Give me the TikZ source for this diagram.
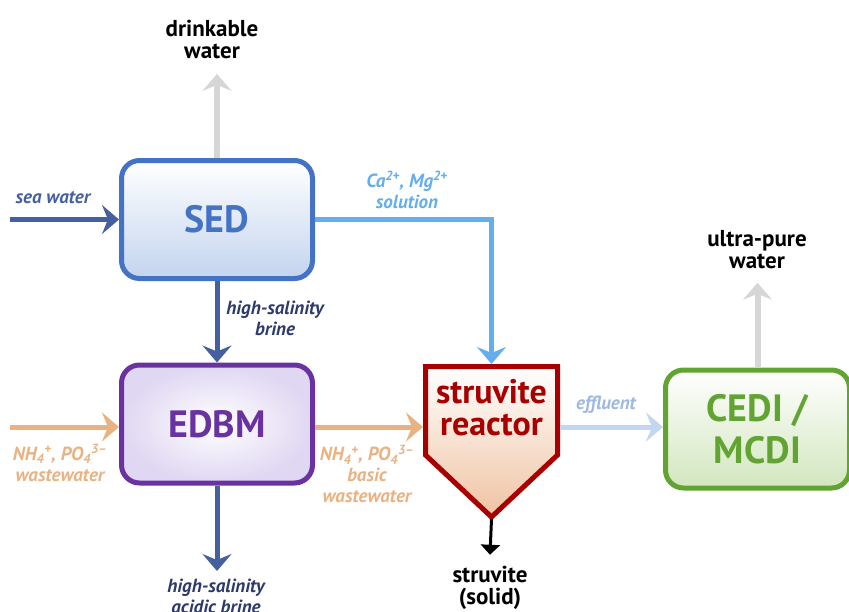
\documentclass[tikz,border=0pt]{standalone}
\usepackage{fontspec}
\setmainfont{PT Sans}
\usetikzlibrary{positioning, calc, arrows.meta, backgrounds}

\definecolor{sedline}{HTML}{4472C4}
\definecolor{sedfill}{HTML}{C3D4EE}
\definecolor{brineblue}{HTML}{46609F}
\definecolor{navytext}{HTML}{2E3A6B}
\definecolor{ionblue}{HTML}{64AEEE}
\definecolor{peach}{HTML}{E9B282}
\definecolor{edbmline}{HTML}{6A32A0}
\definecolor{edbmfill}{HTML}{E0D7F2}
\definecolor{reactred}{HTML}{A80000}
\definecolor{reactfill}{HTML}{EFC3A2}
\definecolor{cediline}{HTML}{62A432}
\definecolor{cedifill}{HTML}{D2E6BE}
\definecolor{effblue}{HTML}{C3D6F0}
\definecolor{efftext}{HTML}{9DB9E2}
\definecolor{outgray}{HTML}{D6D6D6}

\begin{document}
\begin{tikzpicture}[
    x=1pt, y=-1pt,
    unit/.style={draw, line width=5pt, rounded corners=18pt,
                 minimum width=191pt, minimum height=118pt,
                 align=center, font=\fontsize{38}{42}\selectfont\bfseries},
    flow/.style={line width=5pt,
                 -{Stealth[length=17pt, width=29pt, inset=6pt]}},
    outflow/.style={flow, line width=6pt, outgray},
    lbl/.style={align=center, font=\fontsize{19}{21}\selectfont\bfseries\itshape},
    prod/.style={align=center, font=\fontsize{23}{22}\selectfont\bfseries},
]
\useasboundingbox (0,0) rectangle (849,611);

% --- Nodes ---
\node[unit, sedline, text=sedline, top color=white, bottom color=sedfill]
    (sed) at (217, 219.5) {SED};
\node[unit, edbmline, text=edbmline, inner color=white, outer color=edbmfill]
    (edbm) at (217, 424) {EDBM};
\node[unit, cediline, text=cediline, top color=white, bottom color=cedifill,
      minimum width=184pt] (cedi) at (757.5, 429) {CEDI /\\MCDI};
\node[outer sep=0pt, minimum width=132pt, minimum height=88.5pt,
      align=center, text=reactred, font=\fontsize{34}{32}\selectfont\bfseries,
      text depth=6pt]
    (reactor) at (491.5, 410.75) {struvite\\reactor};

% reactor body (drawn from the node's corners)
\begin{pgfonlayer}{background}
\path[draw=reactred, line width=5pt, line join=miter,
      top color=white, bottom color=reactfill]
    (reactor.north west) -- (reactor.north east) -- (reactor.south east)
    -- ($(reactor.south)+(0,62)$) -- (reactor.south west) -- cycle;
\end{pgfonlayer}

% --- Labels ---
\node[prod] (drink) at (212, 39) {drinkable\\water};
\node[prod] (upw) at (757, 250) {ultra-pure\\water};
\node[prod] (solid) at (490, 588) {struvite\\(solid)};
\node[lbl, text=brineblue] (sealbl) at (53, 198) {sea water};
\node[lbl, text=ionblue] (ionlbl) at (407, 190)
    {Ca\textsuperscript{2+}, Mg\textsuperscript{2+}\\solution};
\node[lbl, text=navytext] (brinelbl) at (275, 318) {high-salinity\\brine};
\node[lbl, text=peach] (wwlbl) at (60, 463)
    {NH\textsubscript{4}\textsuperscript{+}, PO\textsubscript{4}\textsuperscript{3--}\\wastewater};
\node[lbl, text=peach] (basiclbl) at (367, 474)
    {NH\textsubscript{4}\textsuperscript{+}, PO\textsubscript{4}\textsuperscript{3--}\\basic\\wastewater};
\node[lbl, text=navytext] (acidlbl) at (216, 596) {high-salinity\\acidic brine};
\node[lbl, text=efftext] (efflbl) at (606, 405) {effluent};

% --- Free ends ---
\coordinate (seain) at (10, 219.5);
\coordinate (wwin) at (10, 427);
\coordinate (acidend) at (217, 571);

% --- Arrows ---
\draw[flow, brineblue] (seain) -- (sed.west);
\draw[outflow] (sed.north) -- ([yshift=-12pt]sed.north |- drink.south);
\draw[flow, ionblue] (sed.east) -| ([yshift=2.5pt]reactor.north);
\draw[flow, brineblue] (sed.south) -- (edbm.north);
\draw[flow, peach] (wwin) -- (edbm.west |- wwin);
\draw[flow, peach] (edbm.east |- wwin) -- ([xshift=-2.5pt]reactor.west |- wwin);
\draw[flow, brineblue] (edbm.south) -- (acidend);
\draw[flow, effblue] ([xshift=2.5pt]reactor.east |- wwin) -- (cedi.west |- wwin);
\draw[outflow] (cedi.north) -- ([yshift=-10pt]cedi.north |- upw.south);
\draw[line width=3pt, -{Triangle[length=10pt, width=19pt]}]
    ($(reactor.south)+(0,64)$) -- ([yshift=8pt]solid.north);
\end{tikzpicture}
\end{document}
